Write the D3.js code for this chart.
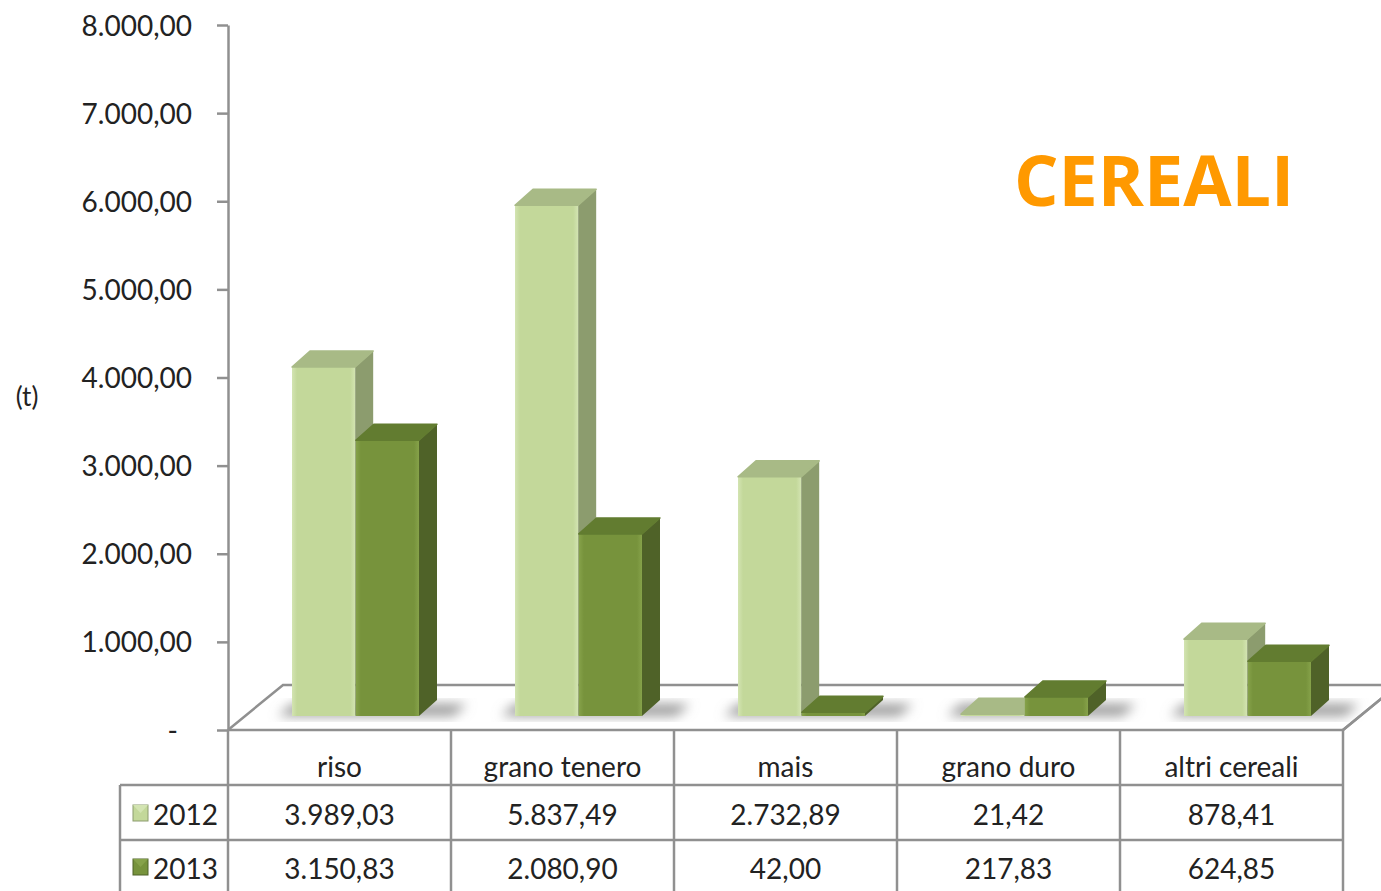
<!DOCTYPE html>
<html>
<head>
<meta charset="utf-8">
<script src="https://cdnjs.cloudflare.com/ajax/libs/d3/7.8.5/d3.min.js"></script>
<style>
  html, body { margin: 0; padding: 0; background: #fff; }
  svg { display: block; font-family: Lato, 'Open Sans', sans-serif; }
</style>
</head>
<body>
<svg id="chart" width="1381" height="891"></svg>
<script>
// data
const categories = ['riso', 'grano tenero', 'mais', 'grano duro', 'altri cereali'];
const years = ['2012', '2013'];
const values2012 = [3989.03, 5837.49, 2732.89, 21.42, 878.41];
const values2013 = [3150.83, 2080.90, 42.00, 217.83, 624.85];
const yTicks = [0, 1000, 2000, 3000, 4000, 5000, 6000, 7000, 8000];

const series = [values2012, values2013];

const it = d3.formatLocale({ decimal: ',', thousands: '.', grouping: [3], currency: ['', ''] });
const fmt = it.format(',.2f');

const svg = d3.select('#chart');
const width = 1381, height = 891;

const plotLeft = 228, plotRight = 1343, floorY = 730;
const depthX = 55, depthY = -45;   // floor depth
const barDX = 18, barDY = -16;     // bar depth

const colors = {
  '2012': { front: '#c3d89a', light: '#d3e4b2', side: '#8c9c6e', top: '#a8ba86' },
  '2013': { front: '#77933c', light: '#86a24a', side: '#4f6228', top: '#627c30' }
};

const x = d3.scaleBand().domain(categories).range([plotLeft, plotRight]);
const xInner = d3.scaleBand().domain(years).range([64, 191]).paddingInner(0.01);

const yAxis = d3.scaleLinear().domain([0, 8000]).range([floorY, 25]);
const yBar = d3.scaleLinear().domain([0, 8000]).range([716, 16]);

// gradients
const defs = svg.append('defs');
years.forEach(yr => {
  const g = defs.append('linearGradient').attr('id', 'front' + yr)
    .attr('x1', 0).attr('x2', 1).attr('y1', 0).attr('y2', 0);
  g.append('stop').attr('offset', '0').attr('stop-color', colors[yr].light);
  g.append('stop').attr('offset', '0.08').attr('stop-color', colors[yr].front);
  g.append('stop').attr('offset', '0.92').attr('stop-color', colors[yr].front);
  g.append('stop').attr('offset', '1').attr('stop-color', colors[yr].light);
});
defs.append('filter').attr('id', 'blur').attr('x', '-50%').attr('y', '-50%')
  .attr('width', '200%').attr('height', '200%')
  .append('feGaussianBlur').attr('stdDeviation', 6);

// floor
const floor = svg.append('g');
floor.append('path')
  .attr('d', `M${plotLeft},${floorY} L${plotLeft + depthX},${floorY + depthY} L${plotRight + depthX},${floorY + depthY} L${plotRight},${floorY}`)
  .attr('fill', 'none').attr('stroke', '#909090').attr('stroke-width', 2.5);

// shadows on floor
svg.append('g').selectAll('path')
  .data(categories)
  .join('path')
  .attr('d', d => {
    const x0 = x(d) + xInner('2012') - 14;
    const x1 = x(d) + xInner('2013') + xInner.bandwidth() + barDX + 30;
    return `M${x0},716 L${x0 + 14},704 L${x1},704 L${x1 - 14},716 Z`;
  })
  .attr('fill', '#9a9a9a')
  .attr('filter', 'url(#blur)');

// bars
const bars = [];
categories.forEach((c, i) => {
  years.forEach((yr, j) => bars.push({ cat: c, year: yr, value: series[j][i] }));
});

const barG = svg.append('g').selectAll('g')
  .data(bars)
  .join('g');

barG.each(function (d) {
  const g = d3.select(this);
  const x0 = x(d.cat) + xInner(d.year);
  const w = xInner.bandwidth();
  const y0 = yBar(0), y1 = yBar(d.value);
  const c = colors[d.year];
  g.append('rect')
    .attr('x', x0).attr('y', y1).attr('width', w).attr('height', Math.max(0, y0 - y1))
    .attr('fill', `url(#front${d.year})`);
  g.append('path')
    .attr('d', `M${x0 + w},${y1} L${x0 + w + barDX},${y1 + barDY} L${x0 + w + barDX},${y0 + barDY} L${x0 + w},${y0} Z`)
    .attr('fill', c.side);
  g.append('path')
    .attr('d', `M${x0},${y1} L${x0 + barDX},${y1 + barDY} L${x0 + w + barDX},${y1 + barDY} L${x0 + w},${y1} Z`)
    .attr('fill', c.top)
    .attr('stroke', c.top).attr('stroke-width', 1.5).attr('stroke-linejoin', 'round');
});

// y axis
const axisG = svg.append('g')
  .attr('transform', `translate(${plotLeft},0)`)
  .call(d3.axisLeft(yAxis).tickValues(yTicks).tickSize(11).tickSizeOuter(0)
    .tickFormat(d => d === 0 ? '-' : fmt(d)));
axisG.select('.domain').attr('stroke', '#909090').attr('stroke-width', 2.5);
axisG.selectAll('.tick line').attr('stroke', '#909090').attr('stroke-width', 2.5);
axisG.selectAll('.tick text')
  .attr('x', -36)
  .attr('dy', '0.36em')
  .attr('fill', '#222')
  .style('font-family', 'Lato, sans-serif')
  .style('font-size', '28px');
axisG.selectAll('.tick text').filter(d => d === 0).attr('x', -50);

svg.append('text')
  .attr('x', 27).attr('y', 406)
  .attr('text-anchor', 'middle')
  .attr('fill', '#222')
  .style('font-size', '26px')
  .text('(t)');

// data table
const tbl = svg.append('g');
const stroke = '#909090';

tbl.selectAll('line.h')
  .data([{ y: 785, x0: 120 }, { y: 840, x0: 120 }])
  .join('line')
  .attr('x1', d => d.x0).attr('x2', plotRight)
  .attr('y1', d => d.y).attr('y2', d => d.y)
  .attr('stroke', stroke).attr('stroke-width', 2.5);

tbl.append('line')
  .attr('x1', plotLeft).attr('x2', plotRight).attr('y1', floorY).attr('y2', floorY)
  .attr('stroke', stroke).attr('stroke-width', 2.5);

const colEdges = categories.map(c => x(c)).concat([plotRight]);
tbl.selectAll('line.v')
  .data(colEdges)
  .join('line')
  .attr('x1', d => d).attr('x2', d => d)
  .attr('y1', floorY).attr('y2', height)
  .attr('stroke', stroke).attr('stroke-width', 2.5);

tbl.append('line')
  .attr('x1', 120).attr('x2', 120).attr('y1', 785).attr('y2', height)
  .attr('stroke', stroke).attr('stroke-width', 2.5);

// right side of floor going back
tbl.append('line')
  .attr('x1', plotRight).attr('x2', plotRight + depthX)
  .attr('y1', floorY).attr('y2', floorY + depthY)
  .attr('stroke', stroke).attr('stroke-width', 2.5);

tbl.selectAll('text.cat')
  .data(categories)
  .join('text')
  .attr('x', d => x(d) + x.bandwidth() / 2)
  .attr('y', 777)
  .attr('text-anchor', 'middle')
  .attr('fill', '#222')
  .style('font-size', '28px')
  .text(d => d);

years.forEach((yr, j) => {
  const ty = [825, 879][j];
  tbl.selectAll('text.v' + yr)
    .data(series[j])
    .join('text')
    .attr('x', (d, i) => x(categories[i]) + x.bandwidth() / 2)
    .attr('y', ty)
    .attr('text-anchor', 'middle')
    .attr('fill', '#222')
    .style('font-size', '28px')
    .text(d => fmt(d));

  tbl.append('rect')
    .attr('x', 133).attr('y', ty - 20).attr('width', 15).attr('height', 16)
    .attr('fill', colors[yr].front)
    .attr('stroke', colors[yr].side).attr('stroke-width', 1);
  tbl.append('path')
    .attr('d', `M133,${ty - 20} L140.5,${ty - 12} L148,${ty - 20} Z`)
    .attr('fill', colors[yr].light);
  tbl.append('text')
    .attr('x', 153).attr('y', ty)
    .attr('fill', '#222')
    .style('font-size', '28px')
    .text(yr);
});

// title
svg.append('text')
  .attr('x', 1014).attr('y', 206)
  .attr('fill', '#ff9900')
  .style('font-family', "'Open Sans', sans-serif")
  .style('font-weight', 700)
  .style('font-size', '70px')
  .text('CEREALI');
</script>
</body>
</html>
